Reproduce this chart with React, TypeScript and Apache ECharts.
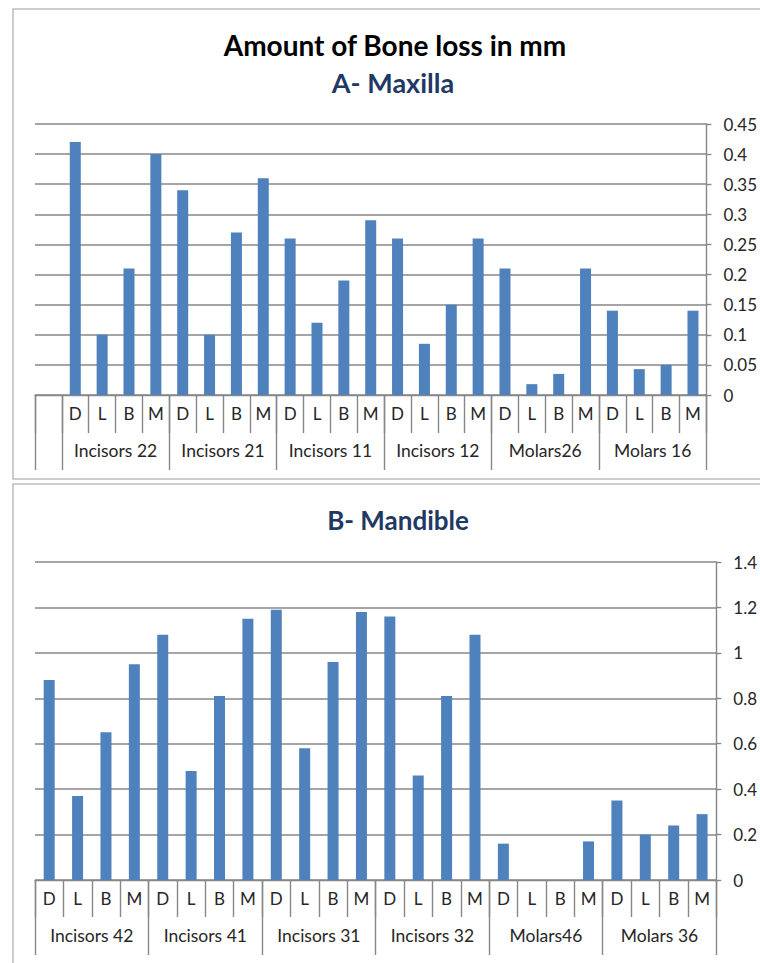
import React, { useEffect, useRef } from "react";
import * as echarts from "echarts";

const leafLabels = ["D", "L", "B", "M"];

const maxillaGroups = ["Incisors 22", "Incisors 21", "Incisors 11", "Incisors 12", "Molars26", "Molars 16"];
const maxillaValues = [
  0.42, 0.1, 0.21, 0.4,
  0.34, 0.1, 0.27, 0.36,
  0.26, 0.12, 0.19, 0.29,
  0.26, 0.085, 0.15, 0.26,
  0.21, 0.018, 0.035, 0.21,
  0.14, 0.043, 0.05, 0.14,
];
const maxillaYMax = 0.45;
const maxillaYStep = 0.05;

const mandibleGroups = ["Incisors 42", "Incisors 41", "Incisors 31", "Incisors 32", "Molars46", "Molars 36"];
const mandibleValues = [
  0.88, 0.37, 0.65, 0.95,
  1.08, 0.48, 0.81, 1.15,
  1.19, 0.58, 0.96, 1.18,
  1.16, 0.46, 0.81, 1.08,
  0.16, 0, 0, 0.17,
  0.35, 0.2, 0.24, 0.29,
];
const mandibleYMax = 1.4;
const mandibleYStep = 0.2;

const FONT = "Lato";
const BAR = "#4F81BD";
const GRIDC = "#878787";
const TEXTC = "#262626";

function buildPanel(groups: string[], values: number[], blankLead: number) {
  const cats: string[] = [];
  const data: (number | null)[] = [];
  for (let i = 0; i < blankLead; i++) {
    cats.push("");
    data.push(null);
  }
  groups.forEach((_, gi) => {
    leafLabels.forEach((l, li) => {
      cats.push(l);
      data.push(values[gi * 4 + li]);
    });
  });
  const total = cats.length;
  const tickVals: number[] = [0];
  for (let g = 0; g <= groups.length; g++) {
    const v = blankLead + g * 4;
    if (!tickVals.includes(v)) tickVals.push(v);
  }
  const labelVals = groups.map((_, g) => blankLead + g * 4 + 2);
  return { cats, data, total, tickVals, labelVals };
}

export default function App() {
  const ref = useRef<HTMLDivElement>(null);
  useEffect(() => {
    if (!ref.current) return;
    const chart = echarts.init(ref.current, null, { renderer: "svg" });
    const top = buildPanel(maxillaGroups, maxillaValues, 1);
    const bot = buildPanel(mandibleGroups, mandibleValues, 0);

    const leafAxis = (gridIndex: number, cats: string[], tickLen: number) => ({
      type: "category",
      gridIndex,
      data: cats,
      position: "bottom",
      boundaryGap: true,
      axisLine: { show: true, onZero: false, lineStyle: { color: GRIDC, width: 1.4 } },
      axisTick: { show: true, interval: 0, length: tickLen, lineStyle: { color: GRIDC, width: 1.4 } },
      axisLabel: { interval: 0, margin: 10, color: TEXTC, fontFamily: FONT, fontSize: 17 },
      splitLine: { show: false },
    });
    const groupAxis = (
      gridIndex: number,
      total: number,
      tickVals: number[],
      labelVals: number[],
      groups: string[],
      blankLead: number,
      tickLen: number,
      margin: number
    ) => ({
      type: "value",
      gridIndex,
      min: 0,
      max: total,
      position: "bottom",
      axisLine: { show: false, onZero: false },
      axisTick: { show: true, customValues: tickVals, length: tickLen, lineStyle: { color: GRIDC, width: 1.4 } },
      axisLabel: {
        show: true,
        customValues: labelVals,
        margin,
        color: TEXTC,
        fontFamily: FONT,
        fontSize: 17.5,
        formatter: (v: number) => groups[Math.round((v - blankLead - 2) / 4)] ?? "",
      },
      splitLine: { show: false },
    });
    const yAxis = (gridIndex: number, max: number, step: number) => ({
      type: "value",
      gridIndex,
      position: "right",
      min: 0,
      max,
      interval: step,
      axisLine: { show: true, onZero: false, lineStyle: { color: GRIDC, width: 1.4 } },
      axisTick: { show: true, length: 5, lineStyle: { color: GRIDC, width: 1.4 } },
      axisLabel: { margin: 17, color: TEXTC, fontFamily: FONT, fontSize: 17 },
      splitLine: { show: true, lineStyle: { color: GRIDC, width: 1.5 } },
    });

    chart.setOption({
      animation: false,
      backgroundColor: "#ffffff",
      graphic: [
        {
          type: "rect",
          shape: { x: 13, y: 9, width: 800, height: 470 },
          style: { fill: "none", stroke: "#bdbdbd", lineWidth: 1.5 },
          silent: true,
          z: -10,
        },
        {
          type: "rect",
          shape: { x: 13, y: 484, width: 800, height: 600 },
          style: { fill: "none", stroke: "#bdbdbd", lineWidth: 1.5 },
          silent: true,
          z: -10,
        },
        {
          type: "text",
          x: 395,
          y: 45,
          style: {
            text: "Amount of Bone loss in mm",
            fill: "#000000",
            font: `bold 28px ${FONT}`,
            textAlign: "center",
            textVerticalAlign: "middle",
          },
        },
        {
          type: "text",
          x: 393,
          y: 82,
          style: {
            text: "A- Maxilla",
            fill: "#1F3864",
            font: `bold 27px ${FONT}`,
            textAlign: "center",
            textVerticalAlign: "middle",
          },
        },
        {
          type: "text",
          x: 398,
          y: 520,
          style: {
            text: "B- Mandible",
            fill: "#1F3864",
            font: `bold 26px ${FONT}`,
            textAlign: "center",
            textVerticalAlign: "middle",
          },
        },
      ],
      grid: [
        { left: 35, top: 124, width: 672, height: 271 },
        { left: 35, top: 562, width: 682, height: 318 },
      ],
      xAxis: [
        leafAxis(0, top.cats, 38),
        groupAxis(0, top.total, top.tickVals, top.labelVals, maxillaGroups, 1, 75, 46),
        leafAxis(1, bot.cats, 37),
        groupAxis(1, bot.total, bot.tickVals, bot.labelVals, mandibleGroups, 0, 75, 46),
      ],
      yAxis: [yAxis(0, maxillaYMax, maxillaYStep), yAxis(1, mandibleYMax, mandibleYStep)],
      series: [
        { type: "bar", xAxisIndex: 0, yAxisIndex: 0, data: top.data, barWidth: 11, itemStyle: { color: BAR } },
        { type: "bar", xAxisIndex: 2, yAxisIndex: 1, data: bot.data, barWidth: 11, itemStyle: { color: BAR } },
      ],
    });
    return () => chart.dispose();
  }, []);
  return (
    <div
      ref={ref}
      style={{ position: "fixed", left: 0, top: 0, width: 760, height: 963, background: "#fff" }}
    />
  );
}
